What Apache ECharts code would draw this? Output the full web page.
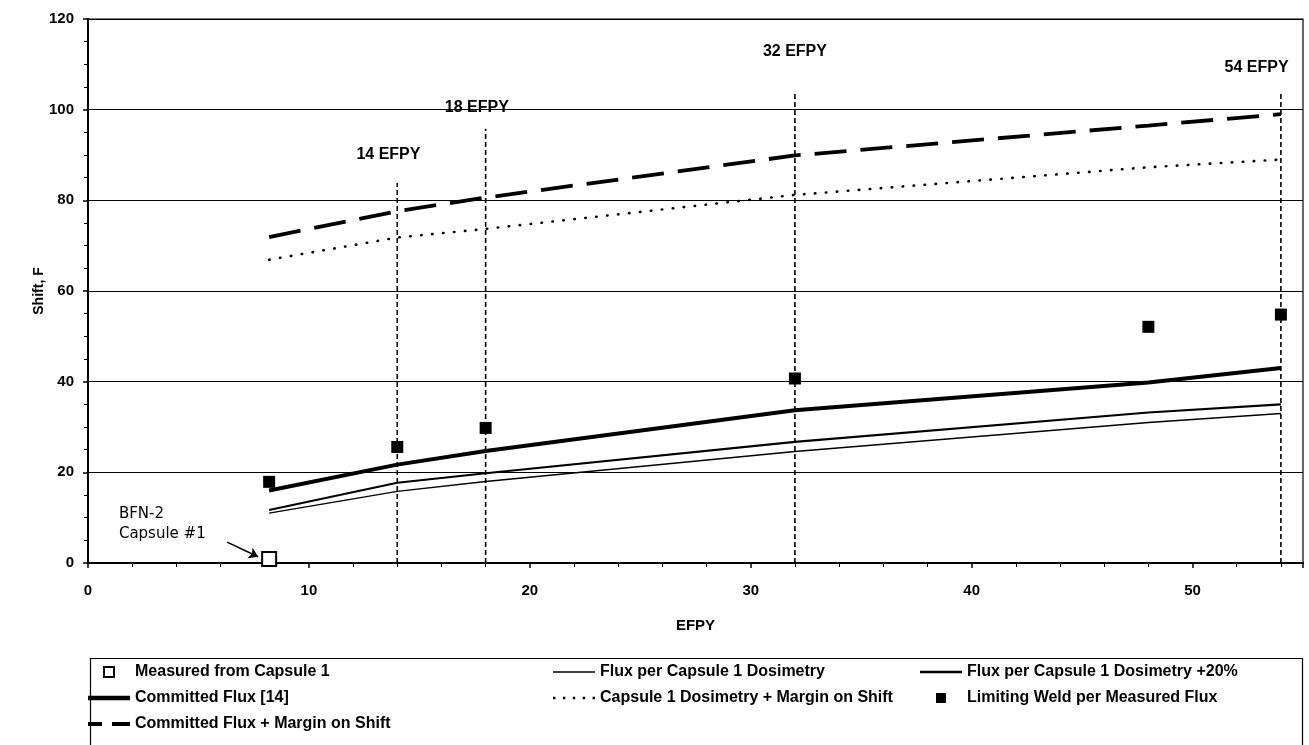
<!DOCTYPE html>
<html>
<head>
<meta charset="utf-8">
<script src="https://cdn.jsdelivr.net/npm/echarts@6/dist/echarts.min.js"></script>
<style>
html,body{margin:0;padding:0;background:#fff;}
#chart{width:1309px;height:745px;}
</style>
</head>
<body>
<div id="chart"></div>
<script>
// ---- data ----
const efpy = [8.2, 14, 18, 32, 48, 54];
const fluxDosimetry = [11.0, 15.8, 18.0, 24.6, 31.0, 33.0];
const fluxDosimetry20 = [11.7, 17.7, 19.8, 26.7, 33.2, 35.0];
const committedFlux = [16.0, 21.7, 24.7, 33.7, 39.8, 43.0];
const dosimetryMargin = [66.9, 71.8, 73.7, 81.2, 87.3, 89.0];
const committedMargin = [71.9, 77.6, 80.6, 89.9, 96.5, 99.0];
const weldEfpy = [8.2, 14, 18, 32, 48, 54];
const weldShift = [17.9, 25.6, 29.8, 40.7, 52.1, 54.8];
const measuredEfpy = [8.2];
const measuredShift = [0.9];
const refEfpy = [14, 18, 32, 54];
const refTop = [83.8, 95.8, 103.5, 103.9];
const refLabels = ['14 EFPY', '18 EFPY', '32 EFPY', '54 EFPY'];
const refLabelX = [13.6, 17.6, 32.0, 52.9];
const refLabelY = [90.1, 100.5, 112.8, 109.2];
const noteText = ['BFN-2', 'Capsule #1'];
const noteX = [1.4, 1.4];
const noteY = [10.8, 6.3];
const arrowFrom = [6.3, 4.6];
const arrowTo = [7.7, 1.4];
const xTicks = [0, 10, 20, 30, 40, 50];
const yTicks = [0, 20, 40, 60, 80, 100, 120];

const pair = (xs, ys) => xs.map((x, i) => [x, ys[i]]);
const FONT = 'Liberation Sans';

const series = [
  { name: 'Measured from Capsule 1', type: 'scatter', data: pair(measuredEfpy, measuredShift),
    symbol: 'rect', symbolSize: 14, z: 5,
    itemStyle: { color: '#fff', borderColor: '#000', borderWidth: 2, opacity: 1 },
    markLine: { silent: true, symbol: ['none', 'arrow'], symbolSize: 9, label: { show: false },
      lineStyle: { color: '#000', width: 1.6, type: 'solid' },
      data: [[{ coord: arrowFrom }, { coord: arrowTo }]] } },
  { name: 'Flux per Capsule 1 Dosimetry', type: 'line', data: pair(efpy, fluxDosimetry),
    symbol: 'none', lineStyle: { color: '#000', width: 1.5 }, itemStyle: { color: '#000' } },
  { name: 'Flux per Capsule 1 Dosimetry +20%', type: 'line', data: pair(efpy, fluxDosimetry20),
    symbol: 'none', lineStyle: { color: '#000', width: 2.2 }, itemStyle: { color: '#000' } },
  { name: 'Committed Flux [14]', type: 'line', data: pair(efpy, committedFlux),
    symbol: 'none', lineStyle: { color: '#000', width: 4 }, itemStyle: { color: '#000' } },
  { name: 'Capsule 1 Dosimetry + Margin on Shift', type: 'line', data: pair(efpy, dosimetryMargin),
    symbol: 'none', lineStyle: { color: '#000', width: 2.6, type: [0.5, 10.5], cap: 'round' }, itemStyle: { color: '#000' } },
  { name: 'Limiting Weld per Measured Flux', type: 'scatter', data: pair(weldEfpy, weldShift),
    symbol: 'rect', symbolSize: 12, z: 5, itemStyle: { color: '#000', opacity: 1 } },
  { name: 'Committed Flux + Margin on Shift', type: 'line', data: pair(efpy, committedMargin),
    symbol: 'none', lineStyle: { color: '#000', width: 3.8, type: [32, 14] }, itemStyle: { color: '#000' } }
];

refEfpy.forEach((x, i) => {
  series.push({ name: 'ref' + i, type: 'line', data: [[x, 0], [x, refTop[i]]], symbol: 'none', silent: true,
    lineStyle: { color: '#000', width: 1.6, type: [5, 3] }, z: 1 });
});

series.push({ name: 'refLabels', type: 'scatter', silent: true, symbolSize: 0,
  itemStyle: { opacity: 1, color: '#000' },
  data: refLabelX.map((x, i) => ({ value: [x, refLabelY[i]], name: refLabels[i] })),
  label: { show: true, position: 'inside', formatter: p => p.name, color: '#000', opacity: 1,
    fontFamily: FONT, fontSize: 16, fontWeight: 'bold' } });

series.push({ name: 'note', type: 'scatter', silent: true, symbolSize: 0,
  itemStyle: { opacity: 1, color: '#000' },
  data: noteX.map((x, i) => ({ value: [x, noteY[i]], name: noteText[i] })),
  label: { show: true, position: 'right', distance: 0, formatter: p => p.name, color: '#000', opacity: 1,
    fontFamily: 'DejaVu Sans', fontSize: 15 } });

const legendText = { fontFamily: FONT, fontSize: 16, fontWeight: 'bold', color: '#000' };
const legendBase = { orient: 'vertical', top: 659, itemWidth: 42, itemHeight: 10, itemGap: 10,
  textStyle: legendText, selectedMode: false };
const noBorder = { borderWidth: 0, color: '#000' };
const ICON = {
  thin: 'path://M0,0H42V1.6H0Z',
  med: 'path://M0,0H42V2.4H0Z',
  thick: 'path://M0,0H42V4.6H0Z',
  dotted: 'path://M0,0H2.4V2.4H0Z M9.8,0H12.2V2.4H9.8Z M19.6,0H22V2.4H19.6Z M29.4,0H31.8V2.4H29.4Z M39.2,0H41.6V2.4H39.2Z',
  dashed: 'path://M0,0H14V4H0Z M24,0H42V4H24Z',
  square: 'path://M0,0H10V10H0Z'
};

const option = {
  animation: false,
  backgroundColor: '#fff',
  grid: { left: 88, right: 6, top: 19, bottom: 182, show: true, borderColor: '#000', borderWidth: 1.2 },
  xAxis: {
    type: 'value', min: 0, max: 55, interval: 10,
    name: 'EFPY', nameLocation: 'middle', nameGap: 55,
    nameTextStyle: { fontFamily: FONT, fontSize: 15, fontWeight: 'bold', color: '#000' },
    axisLine: { onZero: false, lineStyle: { color: '#000', width: 2 } },
    axisTick: { show: true, length: 5, lineStyle: { color: '#000', width: 1.5 } },
    minorTick: { show: true, splitNumber: 5, length: 4, lineStyle: { color: '#000', width: 1 } },
    axisLabel: { margin: 20, fontFamily: FONT, fontSize: 15, fontWeight: 'bold', color: '#000',
      formatter: v => (xTicks.indexOf(v) >= 0 ? String(v) : '') },
    splitLine: { show: false }
  },
  yAxis: {
    type: 'value', min: 0, max: 120, interval: 20,
    name: 'Shift, F', nameLocation: 'middle', nameGap: 42, nameRotate: 90, nameMoveOverlap: false,
    nameTextStyle: { fontFamily: FONT, fontSize: 14, fontWeight: 'bold', color: '#000' },
    axisLine: { lineStyle: { color: '#000', width: 2 } },
    axisTick: { show: true, length: 5, lineStyle: { color: '#000', width: 1.5 } },
    minorTick: { show: true, splitNumber: 4, length: 4, lineStyle: { color: '#000', width: 1 } },
    axisLabel: { margin: 14, fontFamily: FONT, fontSize: 15, fontWeight: 'bold', color: '#000',
      formatter: v => (yTicks.indexOf(v) >= 0 ? String(v) : '') },
    splitLine: { show: true, lineStyle: { color: '#000', width: 1.2 } }
  },
  legend: [
    Object.assign({}, legendBase, { left: 83, data: [
      { name: 'Measured from Capsule 1', icon: ICON.square },
      { name: 'Committed Flux [14]', icon: ICON.thick, itemStyle: noBorder },
      { name: 'Committed Flux + Margin on Shift', icon: ICON.dashed, itemStyle: noBorder }
    ] }),
    Object.assign({}, legendBase, { left: 548, data: [
      { name: 'Flux per Capsule 1 Dosimetry', icon: ICON.thin, itemStyle: noBorder },
      { name: 'Capsule 1 Dosimetry + Margin on Shift', icon: ICON.dotted, itemStyle: noBorder }
    ] }),
    Object.assign({}, legendBase, { left: 915, data: [
      { name: 'Flux per Capsule 1 Dosimetry +20%', icon: ICON.med, itemStyle: noBorder },
      { name: 'Limiting Weld per Measured Flux', icon: ICON.square }
    ] })
  ],
  graphic: [
    { type: 'rect', left: 88, top: 656, silent: true,
      shape: { width: 1212, height: 100 }, style: { fill: 'none', stroke: '#000', lineWidth: 1.2 } }
  ],
  series: series
};

const chart = echarts.init(document.getElementById('chart'), null, { renderer: 'canvas' });
chart.setOption(option);
</script>
</body>
</html>
